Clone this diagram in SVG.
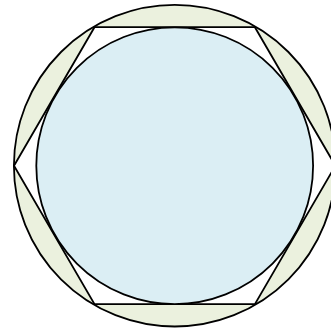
<svg xmlns="http://www.w3.org/2000/svg" width="331" height="334" viewBox="0 0 331 334">
<style>
.s{stroke:#000;stroke-width:1.8}
</style>
<rect width="331" height="334" fill="#fff"/>
<g id="outer"><circle class="s" cx="174.7" cy="165.7" r="160.8" fill="#ebf1de"/></g>
<g id="hexagon"><polygon class="s" fill="#fff" stroke-linejoin="miter" points="14,165.7 94.5,27.2 254.9,27.2 335.4,165.7 254.9,304.2 94.5,304.2"/></g>
<g id="inner"><circle class="s" cx="174.7" cy="165.7" r="138.4" fill="#dbeef4"/></g>
</svg>
